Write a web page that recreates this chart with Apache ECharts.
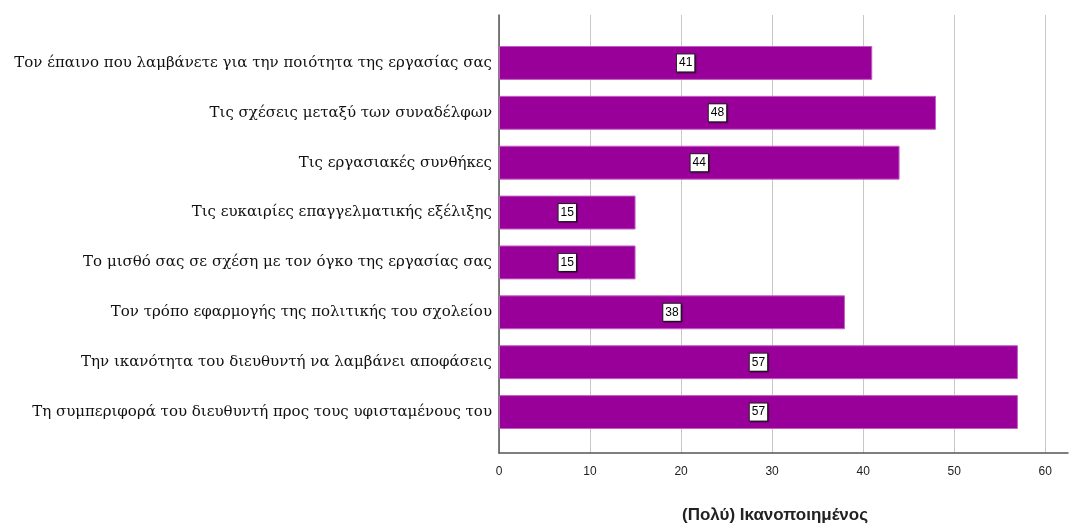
<!DOCTYPE html>
<html>
<head>
<meta charset="utf-8">
<script src="https://cdn.jsdelivr.net/npm/echarts@6/dist/echarts.min.js"></script>
<style>
html,body{margin:0;padding:0;background:#fff;}
#chart{width:1070px;height:529px;}
</style>
</head>
<body>
<div id="chart"></div>
<script>
const categories = [
  "Τον έπαινο που λαμβάνετε για την ποιότητα της εργασίας σας",
  "Τις σχέσεις μεταξύ των συναδέλφων",
  "Τις εργασιακές συνθήκες",
  "Τις ευκαιρίες επαγγελματικής εξέλιξης",
  "Το μισθό σας σε σχέση με τον όγκο της εργασίας σας",
  "Τον τρόπο εφαρμογής της πολιτικής του σχολείου",
  "Την ικανότητα του διευθυντή να λαμβάνει αποφάσεις",
  "Τη συμπεριφορά του διευθυντή προς τους υφισταμένους του"
];
const values = [41, 48, 44, 15, 15, 38, 57, 57];
const axisTitle = "(Πολύ) Ικανοποιημένος";
const xMin = 0, xMax = 62.5, xInterval = 10;

const chart = echarts.init(document.getElementById('chart'), null, {renderer: 'canvas'});
const grey = '#c8c8c8';
const option = {
  backgroundColor: '#ffffff',
  animation: false,
  grid: [
    {left: 499, right: 2, top: 15, bottom: 76, containLabel: false},
    {left: 499, right: 2, top: 38, bottom: 92, containLabel: false}
  ],
  xAxis: [
    {
      gridIndex: 0, type: 'value', min: xMin, max: xMax, interval: xInterval,
      axisLine: {show: true, lineStyle: {color: '#555555', width: 1.5}},
      axisTick: {show: false},
      axisLabel: {
        color: '#222', fontFamily: 'Liberation Sans Narrow, Arial, sans-serif', fontSize: 12, margin: 13,
        showMaxLabel: false,
        formatter: v => (v % 10 === 0 ? String(v) : '')
      },
      splitLine: {show: true, lineStyle: {color: [grey, grey, grey, grey, grey, grey, grey, 'rgba(0,0,0,0)'], width: 1}}
    },
    {
      gridIndex: 1, type: 'value', min: xMin, max: xMax, interval: xInterval, show: false
    }
  ],
  yAxis: [
    {
      gridIndex: 0, type: 'value', min: 0, max: 1,
      axisLine: {show: true, onZero: false, lineStyle: {color: '#555555', width: 1.5}},
      axisTick: {show: false}, axisLabel: {show: false}, splitLine: {show: false}
    },
    {
      gridIndex: 1, type: 'category', data: categories, inverse: true,
      axisLine: {show: false}, axisTick: {show: false},
      axisLabel: {color: '#111', fontFamily: 'DejaVu Serif, serif', fontSize: 15, margin: 7}
    }
  ],
  graphic: [
    {type: 'text', x: 775, y: 515, style: {text: axisTitle, textAlign: 'center', textVerticalAlign: 'middle', font: 'bold 17px Arial, "Liberation Sans", sans-serif', fill: '#222'}}
  ],
  series: [
    {
      type: 'bar', xAxisIndex: 1, yAxisIndex: 1, data: values,
      barCategoryGap: '32%',
      itemStyle: {color: '#990099', borderColor: '#c35ec3', borderWidth: 1},
      label: {
        show: true, position: 'inside', color: '#000',
        fontFamily: 'Liberation Sans Narrow, Arial, sans-serif', fontSize: 12,
        backgroundColor: '#ffffff', borderColor: '#222', borderWidth: 1,
        padding: [3, 2, 2, 2],
        shadowColor: 'rgba(0,0,0,0.4)', shadowOffsetX: 1, shadowOffsetY: 1, shadowBlur: 1
      }
    }
  ]
};
chart.setOption(option);
</script>
</body>
</html>
